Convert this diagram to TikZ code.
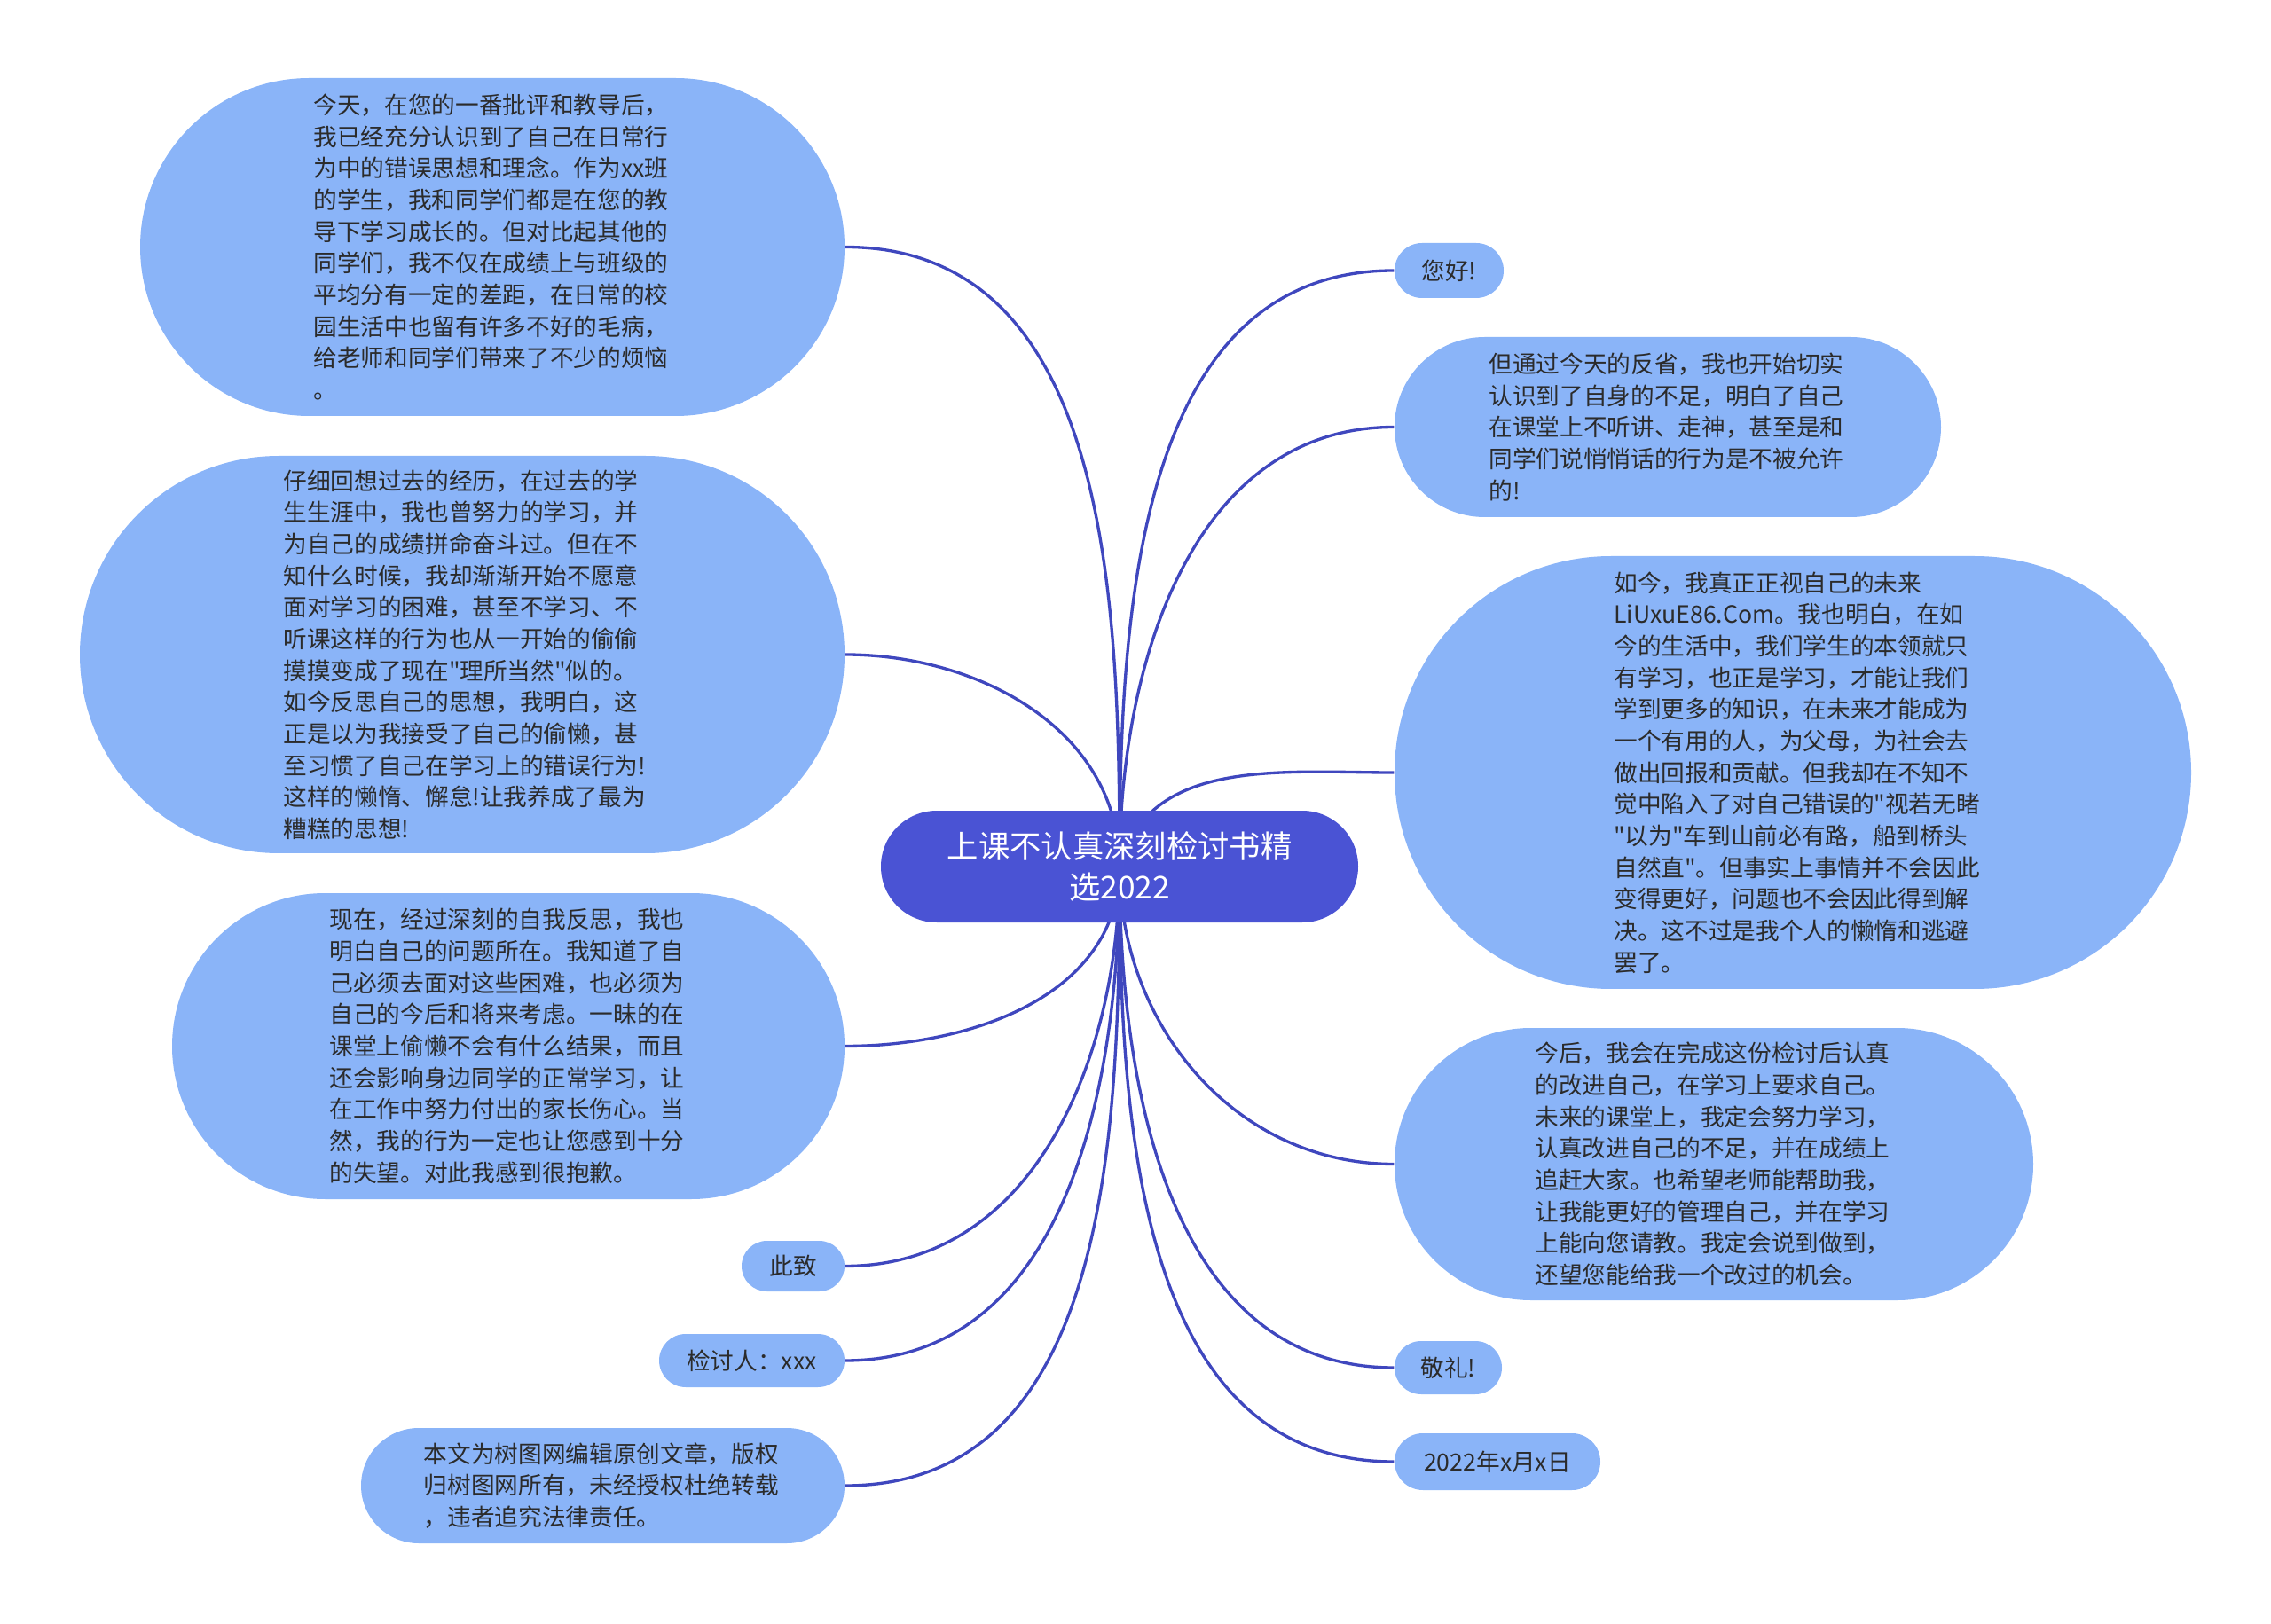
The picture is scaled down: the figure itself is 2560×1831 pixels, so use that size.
\documentclass[tikz,border=0pt]{standalone}
\usepackage{fontspec}
\setmainfont{Noto Sans CJK SC}
\usepackage{xcolor}
\usepackage{tikz}
\usetikzlibrary{backgrounds}
\definecolor{leafblue}{HTML}{8AB4F8}
\definecolor{hubblue}{HTML}{4A53D4}
\definecolor{linkblue}{HTML}{3F47BE}
\definecolor{inkgray}{HTML}{2B2B2B}
\tikzset{
  mapfont/.style={font=\fontsize{8}{10.7}\selectfont},
  pill/.style 2 args={minimum width=#1pt, minimum height=#2pt, rounded corners=#2*0.5pt},
  leafbox/.style={rectangle, fill=leafblue, text=inkgray, inner sep=1pt, mapfont},
  leafpara/.style={leafbox, text width=121pt, align=left},
  hubbox/.style={rectangle, fill=hubblue, text=white, align=center,
    font=\fontsize{10.6}{13.7}\selectfont, pill={161.4}{37.8}},
  branch/.style={draw=linkblue, line width=1pt},
}
\newcommand{\qt}{\textquotedbl{}}

\begin{document}
\begin{tikzpicture}[x=0.3pt,y=-0.3pt]
  \useasboundingbox (0,0) rectangle (2560,1831);

  % Central topic
  \node[hubbox] (hub) at (1262,977) {上课不认真深刻检讨书精\\选2022};

  % Left branches
  \node[leafpara, pill={238.2}{114.3}] (jintian) at (555,278.5)
  {今天，在您的一番批评和教导后，\\我已经充分认识到了自己在日常行\\为中的错误思想和理念。作为xx班\\的学生，我和同学们都是在您的教\\导下学习成长的。但对比起其他的\\同学们，我不仅在成绩上与班级的\\平均分有一定的差距，在日常的校\\园生活中也留有许多不好的毛病，\\给老师和同学们带来了不少的烦恼\\。};
  \node[leafpara, pill={258.6}{134.4}] (zixi) at (521,738)
  {仔细回想过去的经历，在过去的学\\生生涯中，我也曾努力的学习，并\\为自己的成绩拼命奋斗过。但在不\\知什么时候，我却渐渐开始不愿意\\面对学习的困难，甚至不学习、不\\听课这样的行为也从一开始的偷偷\\摸摸变成了现在\qt 理所当然\qt 似的。\\如今反思自己的思想，我明白，这\\正是以为我接受了自己的偷懒，甚\\至习惯了自己在学习上的错误行为!\\这样的懒惰、懈怠!让我养成了最为\\糟糕的思想!};
  \node[leafpara, pill={227.4}{103.5}] (xianzai) at (573,1179.5)
  {现在，经过深刻的自我反思，我也\\明白自己的问题所在。我知道了自\\己必须去面对这些困难，也必须为\\自己的今后和将来考虑。一昧的在\\课堂上偷懒不会有什么结果，而且\\还会影响身边同学的正常学习，让\\在工作中努力付出的家长伤心。当\\然，我的行为一定也让您感到十分\\的失望。对此我感到很抱歉。};
  \node[leafbox, pill={34.8}{17.1}] (cizhi) at (894,1427.5) {此致};
  \node[leafbox, pill={62.7}{18}] (jiantaoren) at (847.5,1534) {检讨人：xxx};
  \node[leafpara, pill={163.5}{39}] (benwen) at (679.5,1675)
  {本文为树图网编辑原创文章，版权\\归树图网所有，未经授权杜绝转载\\，违者追究法律责任。};

  % Right branches
  \node[leafbox, pill={36.9}{18.6}] (ninhao) at (1633.5,305) {您好!};
  \node[leafpara, pill={184.8}{60.9}] (dantongguo) at (1880,481.5)
  {但通过今天的反省，我也开始切实\\认识到了自身的不足，明白了自己\\在课堂上不听讲、走神，甚至是和\\同学们说悄悄话的行为是不被允许\\的!};
  \node[leafpara, pill={269.4}{146.4}] (rujin) at (2021,871)
  {如今，我真正正视自己的未来\\LiUxuE86.Com。我也明白，在如\\今的生活中，我们学生的本领就只\\有学习，也正是学习，才能让我们\\学到更多的知识，在未来才能成为\\一个有用的人，为父母，为社会去\\做出回报和贡献。但我却在不知不\\觉中陷入了对自己错误的\qt 视若无睹\\\qt 以为\qt 车到山前必有路，船到桥头\\自然直\qt 。但事实上事情并不会因此\\变得更好，问题也不会因此得到解\\决。这不过是我个人的懒惰和逃避\\罢了。};
  \node[leafpara, pill={216}{92.1}] (jinhou) at (1932,1312.5)
  {今后，我会在完成这份检讨后认真\\的改进自己，在学习上要求自己。\\未来的课堂上，我定会努力学习，\\认真改进自己的不足，并在成绩上\\追赶大家。也希望老师能帮助我，\\让我能更好的管理自己，并在学习\\上能向您请教。我定会说到做到，\\还望您能给我一个改过的机会。};
  \node[leafbox, pill={36.3}{18}] (jingli) at (1632.5,1542) {敬礼!};
  \node[leafbox, pill={69.6}{19.2}] (riqi) at (1688,1648) {2022年x月x日};

  % Connectors behind the nodes
  \begin{scope}[on background layer]
    \foreach \leaf/\outang in {jintian/90, zixi/90, xianzai/-90, cizhi/-90, jiantaoren/-90, benwen/-90}
      \draw[branch] (hub.center) to[out=\outang, in=0] (\leaf.east);
    \foreach \leaf/\outang in {ninhao/90, dantongguo/90, rujin/75, jinhou/-90, jingli/-90, riqi/-90}
      \draw[branch] (hub.center) to[out=\outang, in=180] (\leaf.west);
  \end{scope}
\end{tikzpicture}
\end{document}
